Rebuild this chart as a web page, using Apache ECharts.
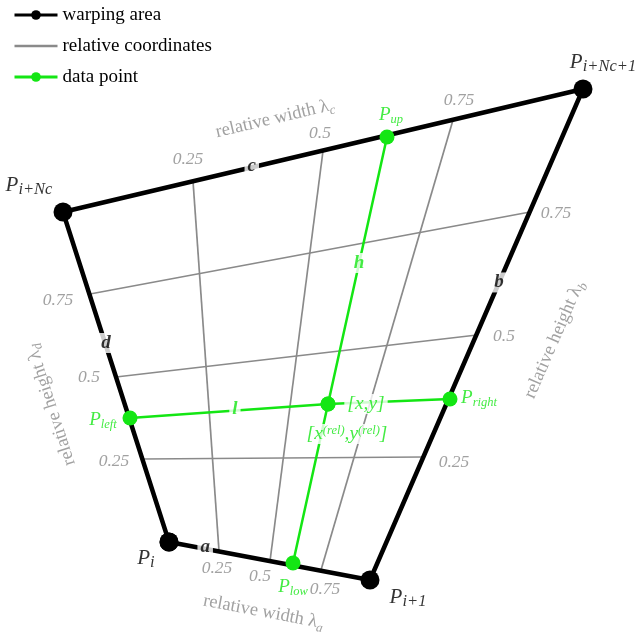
<!DOCTYPE html>
<html>
<head>
<meta charset="utf-8">
<script src="https://cdn.jsdelivr.net/npm/echarts@6/dist/echarts.min.js"></script>
<style>
  html, body { margin: 0; padding: 0; background: #fff; }
  #chart { width: 639px; height: 636px; }
</style>
</head>
<body>
<div id="chart"></div>
<script>
// Corners of the warping cell (x to the right, y downwards), in order P_i, P_i+1, P_i+Nc+1, P_i+Nc
const cornerNames = ['i', 'i+1', 'i+Nc+1', 'i+Nc'];
const corners = [[169, 542], [370, 580], [583, 89], [63, 212]];

// Relative coordinate levels and the grid lines joining them on opposite edges
const lambdaTicks = ['0.25', '0.5', '0.75'];
const widthLines = [   // λ_a on edge a  ->  λ_c on edge c
  [[219, 551], [193, 181]],
  [[270, 561], [323, 151]],
  [[321, 570], [453, 120]]
];
const heightLines = [  // λ_d on edge d  ->  λ_b on edge b
  [[143, 459], [423, 457]],
  [[116, 377], [477, 335]],
  [[90, 294], [530, 212]]
];

// The data point [x,y] and its projections onto the four edges
const pLeft = [130, 418];
const pRight = [450, 399];
const pLow = [293, 563];
const pUp = [387, 137];
const pXY = [328, 404];

// ---------------------------------------------------------------------------
const serif = "'Liberation Serif', 'DejaVu Serif', serif";
const green = '#14e614';
const gray = '#8a8a8a';

const [A, B, C, D] = corners;
const lerp = (p, q, t) => [p[0] + (q[0] - p[0]) * t, p[1] + (q[1] - p[1]) * t];
const mid = (p, q) => lerp(p, q, 0.5);
const shift = (p, d) => [p[0] + d[0], p[1] + d[1]];
const angleOf = (p, q) => Math.atan2(-(q[1] - p[1]), q[0] - p[0]) * 180 / Math.PI;

// one free-floating text item, anchored at a point of the drawing
function textItem(at, text, label) {
  return {
    value: at,
    label: Object.assign({ show: true, position: 'inside', formatter: text, fontFamily: serif }, label)
  };
}

const subRich = (size, subSize, color, lh) => ({
  p: { fontSize: size, fontStyle: 'italic', fontFamily: serif, color: color, lineHeight: lh, verticalAlign: 'middle' },
  s: { fontSize: subSize, fontStyle: 'italic', fontFamily: serif, color: color, lineHeight: lh, verticalAlign: 'bottom' }
});
const titleRich = {
  t: { fontSize: 18.5, fontFamily: serif, color: gray, lineHeight: 24, verticalAlign: 'middle' },
  s: { fontSize: 13, fontStyle: 'italic', fontFamily: serif, color: gray, lineHeight: 24, verticalAlign: 'bottom' }
};

const texts = [];

// corner names P_i ...
const cornerOffsets = [[-23, 16], [38, 17], [20, -27], [-34, -27]];
corners.forEach((c, i) => {
  texts.push(textItem(c, '{p|P}{s|' + cornerNames[i] + '}', {
    offset: cornerOffsets[i], rich: subRich(21, 16.5, '#000', 26)
  }));
});

// tick labels along each edge
const tickStyle = { fontSize: 17.5, fontStyle: 'italic', color: gray };
const cOff = [[-5, -22], [-3, -18], [6, -20]];
const aOff = [[-2, 17], [-10, 15], [4, 19]];
const dOff = [[-29, 2], [-27, 0], [-32, 6]];
const bOff = [[31, 5], [27, 1], [26, 1]];
lambdaTicks.forEach((t, i) => {
  texts.push(textItem(widthLines[i][1], t, Object.assign({ offset: cOff[i] }, tickStyle)));
  texts.push(textItem(widthLines[i][0], t, Object.assign({ offset: aOff[i] }, tickStyle)));
  texts.push(textItem(heightLines[i][0], t, Object.assign({ offset: dOff[i] }, tickStyle)));
  texts.push(textItem(heightLines[i][1], t, Object.assign({ offset: bOff[i] }, tickStyle)));
});

// axis titles, rotated along their edge
texts.push(textItem(shift(mid(D, C), [-48, -32]), '{t|relative width λ}{s|c}', { rotate: angleOf(D, C), rich: titleRich }));
texts.push(textItem(shift(mid(A, B), [-6, 51]), '{t|relative width λ}{s|a}', { rotate: angleOf(A, B), rich: titleRich }));
texts.push(textItem(shift(mid(A, D), [-65, 28]), '{t|relative height λ}{s|d}', { rotate: angleOf(A, D), rich: titleRich }));
texts.push(textItem(shift(mid(B, C), [78, 5]), '{t|relative height λ}{s|b}', { rotate: angleOf(B, C), rich: titleRich }));

// edge letters, sitting on the edge with a white break
const letterStyle = (color) => ({
  fontSize: 19, fontStyle: 'italic', fontWeight: 'bold', color: color,
  backgroundColor: '#fff', padding: [0, 3, 0, 3], lineHeight: 20
});
texts.push(textItem(lerp(A, B, 0.18), 'a', Object.assign({ offset: [0, -2] }, letterStyle('#000'))));
texts.push(textItem(lerp(B, C, 0.606), 'b', Object.assign({ offset: [0, 0] }, letterStyle('#000'))));
texts.push(textItem(lerp(D, C, 0.363), 'c', Object.assign({ offset: [0, -1] }, letterStyle('#000'))));
texts.push(textItem(lerp(A, D, 0.594), 'd', Object.assign({ offset: [0, -3] }, letterStyle('#000'))));
texts.push(textItem(lerp(pLeft, pXY, 0.53), 'l', Object.assign({ offset: [0, -1] }, letterStyle(green))));
texts.push(textItem(lerp(pXY, pUp, 0.528), 'h', Object.assign({ offset: [0, 0] }, letterStyle(green))));

// data point names
const gRich = subRich(19, 12.5, green, 22);
texts.push(textItem(pUp, '{p|P}{s|up}', { offset: [4, -22], rich: gRich }));
texts.push(textItem(pLow, '{p|P}{s|low}', { offset: [0, 24], rich: gRich }));
texts.push(textItem(pLeft, '{p|P}{s|left}', { offset: [-27, 2], rich: gRich }));
texts.push(textItem(pRight, '{p|P}{s|right}', { offset: [29, -1], rich: gRich }));
texts.push(textItem(pXY, '[x,y]', {
  offset: [38, 0], fontSize: 19.5, fontStyle: 'italic', color: green,
  backgroundColor: '#fff', padding: [0, 3, 0, 3], lineHeight: 20
}));
texts.push(textItem(pXY, '{t|[x}{u|(rel)}{t|,y}{u|(rel)}{t|]}', {
  offset: [19, 30], backgroundColor: '#fff', padding: [0, 3, 0, 3],
  rich: {
    t: { fontSize: 19.5, fontStyle: 'italic', fontFamily: serif, color: green, lineHeight: 20, verticalAlign: 'bottom' },
    u: { fontSize: 12.5, fontStyle: 'italic', fontFamily: serif, color: green, lineHeight: 20, verticalAlign: 'top' }
  }
}));

// ---------------------------------------------------------------------------
const series = [];

widthLines.concat(heightLines).forEach((seg) => {
  series.push({
    name: 'relative coordinates', type: 'line', data: seg, symbol: 'none', z: 1,
    lineStyle: { color: gray, width: 1.7 }, itemStyle: { color: gray }
  });
});

series.push({
  name: 'warping area', type: 'line', data: corners.concat([corners[0]]), z: 2,
  symbol: 'circle', symbolSize: 19,
  lineStyle: { color: '#000', width: 4.5 }, itemStyle: { color: '#000' }
});

series.push({
  name: 'data point', type: 'line', data: [pLeft, pXY, pRight], z: 3,
  symbol: 'circle', symbolSize: 15,
  lineStyle: { color: green, width: 2.5 }, itemStyle: { color: green }
});
series.push({
  name: 'data point', type: 'line', data: [pLow, pXY, pUp], z: 3,
  symbol: 'circle', symbolSize: 15,
  lineStyle: { color: green, width: 2.5 }, itemStyle: { color: green }
});

series.push({
  type: 'scatter', data: texts, z: 5, symbolSize: 1,
  itemStyle: { color: 'rgba(0,0,0,0)' }
});

const chart = echarts.init(document.getElementById('chart'), null, { renderer: 'canvas' });
chart.setOption({
  animation: false,
  backgroundColor: '#fff',
  grid: { left: 0, right: 0, top: 0, bottom: 0 },
  xAxis: { type: 'value', min: 0, max: 639, show: false },
  yAxis: { type: 'value', min: 0, max: 636, inverse: true, show: false },
  legend: {
    orient: 'vertical', left: 8, top: 0, itemWidth: 43, itemHeight: 12, itemGap: 11,
    textStyle: { fontFamily: serif, fontSize: 19, color: '#000', lineHeight: 20 },
    data: [
      { name: 'warping area', lineStyle: { width: 3 } },
      { name: 'relative coordinates', lineStyle: { width: 2.5 }, itemStyle: { color: 'rgba(0,0,0,0)', borderWidth: 0 } },
      { name: 'data point', lineStyle: { width: 3 } }
    ],
    selectedMode: false
  },
  series: series
});
</script>
</body>
</html>
